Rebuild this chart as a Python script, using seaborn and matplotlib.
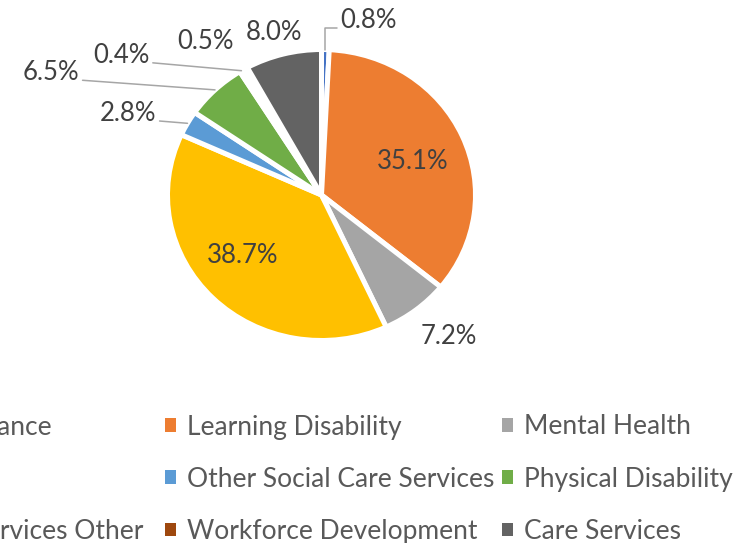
import numpy as np
import matplotlib
matplotlib.use("Agg")
import matplotlib.pyplot as plt
from matplotlib.patches import Patch
import seaborn as sns

# datos del gráfico (porcentajes)
categorias = ["Corporate Finance", "Learning Disability", "Mental Health",
              "Older People", "Other Social Care Services", "Physical Disability",
              "Social Care Services Other", "Workforce Development", "Care Services"]
valores = [0.8, 35.1, 7.2, 38.7, 2.8, 6.5, 0.4, 0.5, 8.0]
colores = ["#4472C4", "#ED7D31", "#A5A5A5", "#FFC000", "#5B9BD5",
           "#70AD47", "#264478", "#9E480E", "#636363"]

# posición de las etiquetas: radio y ángulo
etiqueta_r = [1.235, 0.636, 1.277, 0.66, 1.376, 1.948, 1.617, 1.292, 1.161]
etiqueta_ang = [75.6, 21.0, -49.8, -141, 155.9, 154.4, 143.5, 125.5, 105.3]
# tipo: 'in' dentro, 'out' fuera, 'line' con línea guía, 'elbow' con codo
etiqueta_tipo = ["elbow", "in", "out", "in", "line", "line", "line", "out", "out"]

sns.set_theme(style="white")
plt.rcParams['font.family'] = ['Lato', 'DejaVu Sans']

W, H = 751, 543
fig = plt.figure(figsize=(W / 100, H / 100), dpi=100)
ax = fig.add_axes([0, 0, 1, 1])

ax.pie(valores, colors=colores, startangle=90, counterclock=False, radius=1,
       wedgeprops=dict(edgecolor="white", linewidth=3.6))

# la imagen original está algo estirada en horizontal
cx, cy, sx, sy = 321.5, 195, 154, 145.5
ax.set_aspect('auto')
ax.set_xlim(-cx / sx, (W - cx) / sx)
ax.set_ylim(-(H - cy) / sy, cy / sy)
ax.axis('off')

total = sum(valores)
acum = np.cumsum(valores)
for i, v in enumerate(valores):
    medio = 90 - 360 * (acum[i] - v / 2) / total
    ang = etiqueta_ang[i]
    r = etiqueta_r[i]
    pos = (r * np.cos(np.radians(ang)), r * np.sin(np.radians(ang)))
    borde = (np.cos(np.radians(medio)), np.sin(np.radians(medio)))
    txt = f"{v:.1f}%"
    tipo = etiqueta_tipo[i]
    if tipo == "line":
        ax.annotate(txt, xy=borde, xytext=pos, ha="center", va="center",
                    fontsize=18.5, color="#404040",
                    arrowprops=dict(arrowstyle="-", color="#a6a6a6", lw=1.1,
                                    relpos=(1.0, 0.2), shrinkA=0, shrinkB=0))
    elif tipo == "elbow":
        ax.annotate(txt, xy=borde, xytext=pos, ha="center", va="center",
                    fontsize=18.5, color="#404040",
                    arrowprops=dict(arrowstyle="-", color="#a6a6a6", lw=1.1,
                                    relpos=(0.0, 0.2), shrinkA=0, shrinkB=0,
                                    connectionstyle="angle,angleA=0,angleB=90,rad=0"))
    else:
        ax.text(pos[0], pos[1], txt, ha="center", va="center",
                fontsize=18.5, color="#404040")


# leyenda: una columna por llamada, tres filas cada una (como en Excel)
def columna(indices):
    hs = [Patch(facecolor=colores[k], edgecolor="none") for k in indices]
    ls = [categorias[k] for k in indices]
    return fig.legend(hs, ls, ncol=1, loc="upper left", bbox_to_anchor=(0, 0.3),
                      frameon=False, fontsize=19, labelcolor="#595959",
                      handlelength=0.42, handleheight=0.42, handletextpad=0.42,
                      labelspacing=1.03, borderaxespad=0, borderpad=0)


fila1_y = H - 427   # centro de la primera fila (px desde abajo)
columnas = [[0, 3, 6], [1, 4, 7], [2, 5, 8]]
inicio_texto = [None, 187, 524]
fin_col1 = [45, 3, 135]   # donde acaban los textos recortados de la 1a columna

leyendas = [columna(c) for c in columnas]
fig.canvas.draw()
for j, leg in enumerate(leyendas):
    bbs = [t.get_window_extent() for t in leg.get_texts()]
    if inicio_texto[j] is None:
        x0 = np.mean([fin_col1[k] - bbs[k].width for k in range(3)])
    else:
        x0 = inicio_texto[j]
    dx = (x0 - bbs[0].x0) / W
    dy = (fila1_y - (bbs[0].y0 + bbs[0].y1) / 2) / H
    leg.set_bbox_to_anchor((dx, 0.3 + dy), transform=fig.transFigure)

fig.savefig("out.png", dpi=100)
